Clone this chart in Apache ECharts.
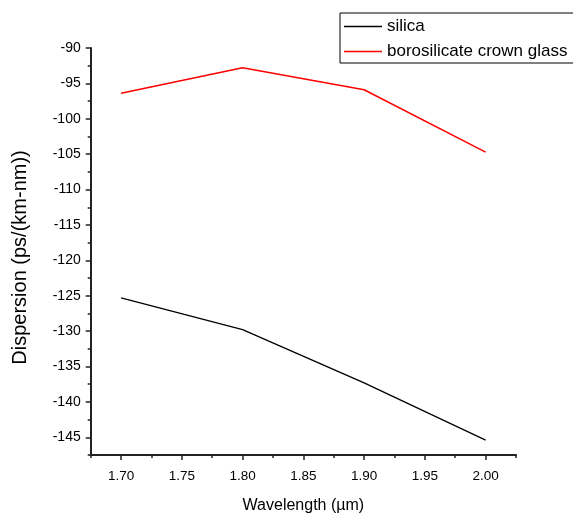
<!DOCTYPE html>
<html>
<head>
<meta charset="utf-8">
<script src="https://cdn.jsdelivr.net/npm/echarts@6/dist/echarts.min.js"></script>
<style>html,body{margin:0;padding:0;background:#fff;}#c{width:573px;height:515px;}</style>
</head>
<body>
<div id="c"></div>
<script>
var wavelengths = [1.70, 1.80, 1.90, 2.00];
var silica = [-125.3, -129.8, -137.3, -145.4];
var borosilicate = [-96.4, -92.8, -95.9, -104.7];
var xMajorTicks = [1.70, 1.75, 1.80, 1.85, 1.90, 1.95, 2.00];
var xMinorTicks = [1.675, 1.725, 1.775, 1.825, 1.875, 1.925, 1.975, 2.025];
var yMajorTicks = [-145, -140, -135, -130, -125, -120, -115, -110, -105, -100, -95, -90];
var yMinorTicks = [-147.5, -142.5, -137.5, -132.5, -127.5, -122.5, -117.5, -112.5, -107.5, -102.5, -97.5, -92.5];

var font = 'Arial, "Liberation Sans", sans-serif';
var axisColor = '#222';
var chart = echarts.init(document.getElementById('c'));
function pair(a, b) { return a.map(function (x, i) { return [x, b[i]]; }); }

chart.setOption({
  animation: false,
  backgroundColor: '#fff',
  grid: { left: 90.7, right: 57, top: 48, bottom: 60, containLabel: false, outerBoundsMode: 'none' },
  legend: {
    orient: 'vertical', left: 340, top: 13,
    borderColor: '#000', borderWidth: 1, borderRadius: 0,
    padding: [5, 40, 3, 4],
    itemWidth: 38, itemHeight: 12, itemGap: 8,
    textStyle: { fontFamily: font, fontSize: 17, color: '#000', padding: [0, 0, 0, 0] },
    data: [
      { name: 'silica', icon: 'path://M0,0L38,0L38,1.3L0,1.3Z', itemStyle: { color: '#000' } },
      { name: 'borosilicate crown glass', icon: 'path://M0,0L38,0L38,1.3L0,1.3Z', itemStyle: { color: '#ff0000' } }
    ]
  },
  xAxis: [{
    type: 'value', min: 1.675, max: 2.025, position: 'bottom',
    name: 'Wavelength (\u00b5m)', nameLocation: 'middle', nameGap: 43,
    nameTextStyle: { fontFamily: font, fontSize: 16, color: '#000' },
    axisLine: { show: true, lineStyle: { color: axisColor, width: 2 } },
    axisTick: { show: true, length: 5, customValues: xMajorTicks, lineStyle: { color: axisColor, width: 1.5 } },
    axisLabel: { customValues: xMajorTicks, fontFamily: font, fontSize: 13.5, color: '#000', margin: 14,
      formatter: function (v) { return v.toFixed(2); } },
    splitLine: { show: false }
  }, {
    type: 'value', min: 1.675, max: 2.025, position: 'bottom', offset: 0,
    axisLine: { show: false },
    axisTick: { show: true, length: 3, customValues: xMinorTicks, lineStyle: { color: axisColor, width: 1.5 } },
    axisLabel: { show: false },
    splitLine: { show: false }
  }],
  yAxis: [{
    type: 'value', min: -147.5, max: -90, position: 'left',
    name: 'Dispersion (ps/(km-nm))', nameLocation: 'middle', nameGap: 60, nameRotate: 90,
    nameTextStyle: { fontFamily: font, fontSize: 20, color: '#000', padding: [0, 12, 0, 0] },
    axisLine: { show: true, lineStyle: { color: axisColor, width: 2 } },
    axisTick: { show: true, length: 5, customValues: yMajorTicks, lineStyle: { color: axisColor, width: 1.5 } },
    axisLabel: { customValues: yMajorTicks, fontFamily: font, fontSize: 14, color: '#000', margin: 10 },
    splitLine: { show: false }
  }, {
    type: 'value', min: -147.5, max: -90, position: 'left', offset: 0,
    axisLine: { show: false },
    axisTick: { show: true, length: 3, customValues: yMinorTicks, lineStyle: { color: axisColor, width: 1.5 } },
    axisLabel: { show: false },
    splitLine: { show: false }
  }],
  series: [{
    name: 'silica', type: 'line', symbol: 'none', xAxisIndex: 0, yAxisIndex: 0,
    lineStyle: { color: '#000', width: 1.3 }, itemStyle: { color: '#000' },
    data: pair(wavelengths, silica)
  }, {
    name: 'borosilicate crown glass', type: 'line', symbol: 'none', xAxisIndex: 0, yAxisIndex: 0,
    lineStyle: { color: '#ff0000', width: 1.5 }, itemStyle: { color: '#ff0000' },
    data: pair(wavelengths, borosilicate)
  }]
});
</script>
</body>
</html>
